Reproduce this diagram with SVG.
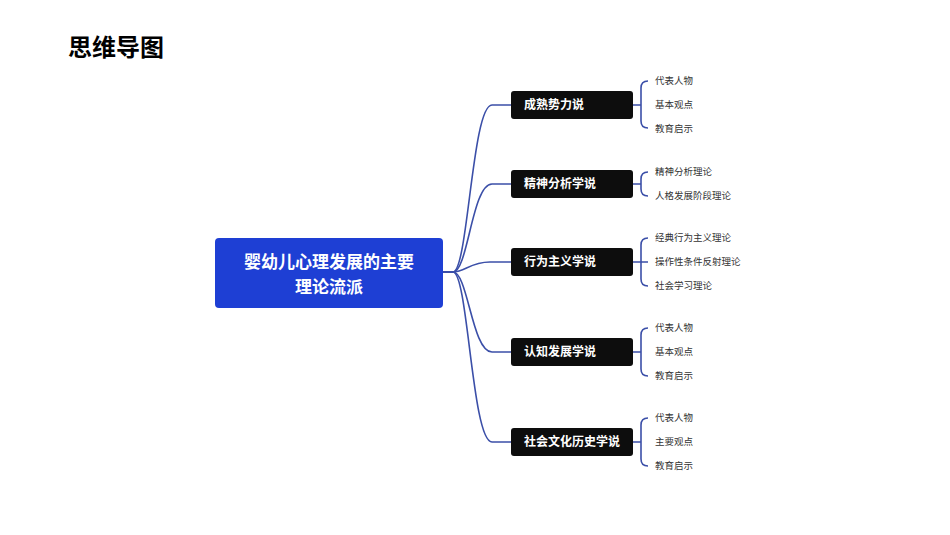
<svg xmlns="http://www.w3.org/2000/svg" width="950" height="535" viewBox="0 0 950 535">
<style>
text{font-family:"Noto Sans CJK SC","Noto Sans",sans-serif}
.c{fill:none;stroke:#3b4fa8;stroke-width:1.6}
.b{fill:#0d0d0d}
.bt{fill:#fff;font-size:12px;font-weight:bold}
.ch{fill:#333;font-size:9.5px}
</style>
<rect width="950" height="535" fill="#fff"/>
<text x="68" y="56" font-size="24" font-weight="bold" fill="#000">思维导图</text>
<g id="connectors">
<path class="c" d="M443,272 H453 C468,272 472,105 492,105 H511"/>
<path class="c" d="M443,272 H453 C468,272 472,184 492,184 H511"/>
<path class="c" d="M443,272 H453 C465,272 470,262 490,262 H511"/>
<path class="c" d="M443,272 H453 C468,272 472,352 492,352 H511"/>
<path class="c" d="M443,272 H453 C468,272 472,442 492,442 H511"/>
<path class="c" d="M633,105 H641 M648,81 Q641,81 641,88 V121 Q641,128 648,128"/>
<path class="c" d="M633,184 H641 M648,172 Q641,172 641,179 V189 Q641,196 648,196"/>
<path class="c" d="M633,262 H648 M648,238 Q641,238 641,245 V279 Q641,286 648,286"/>
<path class="c" d="M633,352 H641 M648,328 Q641,328 641,335 V369 Q641,376 648,376"/>
<path class="c" d="M633,442 H641 M648,418 Q641,418 641,425 V459 Q641,466 648,466"/>
</g>
<g id="root"><rect x="215" y="238" width="228" height="70" rx="4" fill="#1e3fd4"/>
<text x="329" y="268" text-anchor="middle" fill="#fff" font-size="17" font-weight="bold">婴幼儿心理发展的主要</text>
<text x="329" y="293" text-anchor="middle" fill="#fff" font-size="17" font-weight="bold">理论流派</text></g>
<g id="n1"><rect class="b" x="511" y="91" width="122" height="28" rx="3"/><text class="bt" x="524" y="109">成熟势力说</text></g>
<g id="n2"><rect class="b" x="511" y="170" width="122" height="28" rx="3"/><text class="bt" x="524" y="188">精神分析学说</text></g>
<g id="n3"><rect class="b" x="511" y="248" width="122" height="28" rx="3"/><text class="bt" x="524" y="266">行为主义学说</text></g>
<g id="n4"><rect class="b" x="511" y="338" width="122" height="28" rx="3"/><text class="bt" x="524" y="356">认知发展学说</text></g>
<g id="n5"><rect class="b" x="511" y="428" width="122" height="28" rx="3"/><text class="bt" x="524" y="446">社会文化历史学说</text></g>
<g id="leaves">
<text class="ch" x="655" y="84">代表人物</text><text class="ch" x="655" y="108">基本观点</text><text class="ch" x="655" y="132">教育启示</text>
<text class="ch" x="655" y="175">精神分析理论</text><text class="ch" x="655" y="199">人格发展阶段理论</text>
<text class="ch" x="655" y="241">经典行为主义理论</text><text class="ch" x="655" y="265">操作性条件反射理论</text><text class="ch" x="655" y="289">社会学习理论</text>
<text class="ch" x="655" y="331">代表人物</text><text class="ch" x="655" y="355">基本观点</text><text class="ch" x="655" y="379">教育启示</text>
<text class="ch" x="655" y="421">代表人物</text><text class="ch" x="655" y="445">主要观点</text><text class="ch" x="655" y="469">教育启示</text>
</g>
</svg>
